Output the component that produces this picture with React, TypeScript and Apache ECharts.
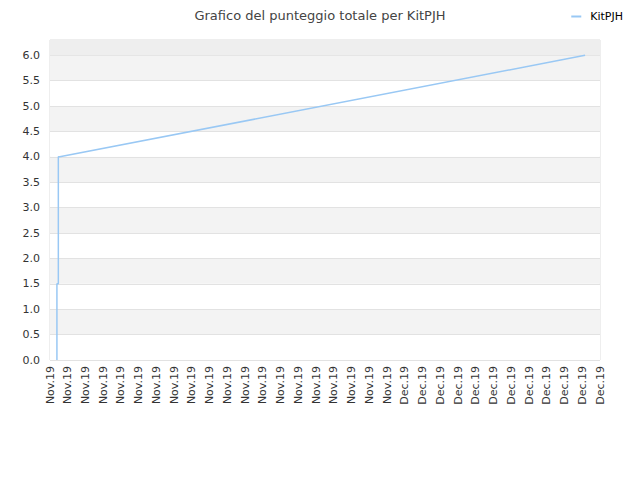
import React, { useEffect, useRef } from "react";
import * as echarts from "echarts";

const xLabels: string[] = [
  ...Array(20).fill("Nov.19"),
  ...Array(12).fill("Dec.19"),
];
// [position along the category axis, total score]
const scorePoints: [number, number][] = [
  [0.39, 0],
  [0.39, 1.5],
  [0.47, 1.5],
  [0.47, 4.0],
  [0.55, 4.0],
  [30.16, 6.0],
];
const seriesName = "KitPJH";
const titleText = "Grafico del punteggio totale per KitPJH";

export default function App() {
  const ref = useRef<HTMLDivElement>(null);
  useEffect(() => {
    if (!ref.current) return;
    const chart = echarts.init(ref.current, undefined, { renderer: "svg" });
    const font = "DejaVu Sans";
    chart.setOption({
      animation: false,
      backgroundColor: "#ffffff",
      title: {
        text: titleText,
        left: "center",
        top: 4,
        textStyle: { fontFamily: font, fontSize: 13, fontWeight: "normal", color: "#444" },
      },
      legend: {
        right: 12,
        top: 6,
        itemWidth: 10,
        itemHeight: 2,
        itemGap: 8,
        icon: "rect",
        data: [seriesName],
        textStyle: { fontFamily: font, fontSize: 11, color: "#000", padding: [0, 0, 0, 4] },
      },
      grid: {
        left: 50,
        right: 40,
        top: 40,
        bottom: 120,
        show: true,
        borderColor: "#dddddd",
        borderWidth: 1,
        backgroundColor: "transparent",
      },
      xAxis: {
        type: "value",
        min: 0,
        max: xLabels.length - 1,
        interval: 1,
        axisLine: { show: false },
        axisTick: { show: false },
        splitLine: { show: false },
        axisLabel: {
          rotate: 90,
          fontFamily: font,
          fontSize: 11,
          color: "#333",
          margin: 6,
          formatter: (v: number) => xLabels[Math.round(v)] ?? "",
        },
      },
      yAxis: {
        type: "value",
        min: 0,
        max: 6.3,
        interval: 0.5,
        axisLine: { show: false },
        axisTick: { show: false },
        axisLabel: {
          fontFamily: font,
          fontSize: 11,
          color: "#333",
          margin: 10,
          showMaxLabel: false,
          formatter: (v: number) => v.toFixed(1),
        },
        splitLine: { show: true, lineStyle: { color: "#e2e2e2", width: 1 } },
        splitArea: { show: true, areaStyle: { color: ["#ffffff", "#f3f3f3"] } },
      },
      series: [
        {
          name: seriesName,
          type: "line",
          data: scorePoints,
          showSymbol: false,
          symbol: "none",
          lineStyle: { color: "#99c8f4", width: 1.5 },
          itemStyle: { color: "#99c8f4" },
          markArea: {
            silent: true,
            itemStyle: { color: "#eeeeee" },
            data: [[{ yAxis: 6.0 }, { yAxis: 6.3 }]],
          },
        },
      ],
    });
    return () => chart.dispose();
  }, []);
  return (
    <div
      ref={ref}
      style={{ position: "fixed", left: 0, top: 0, width: 640, height: 480 }}
    />
  );
}
